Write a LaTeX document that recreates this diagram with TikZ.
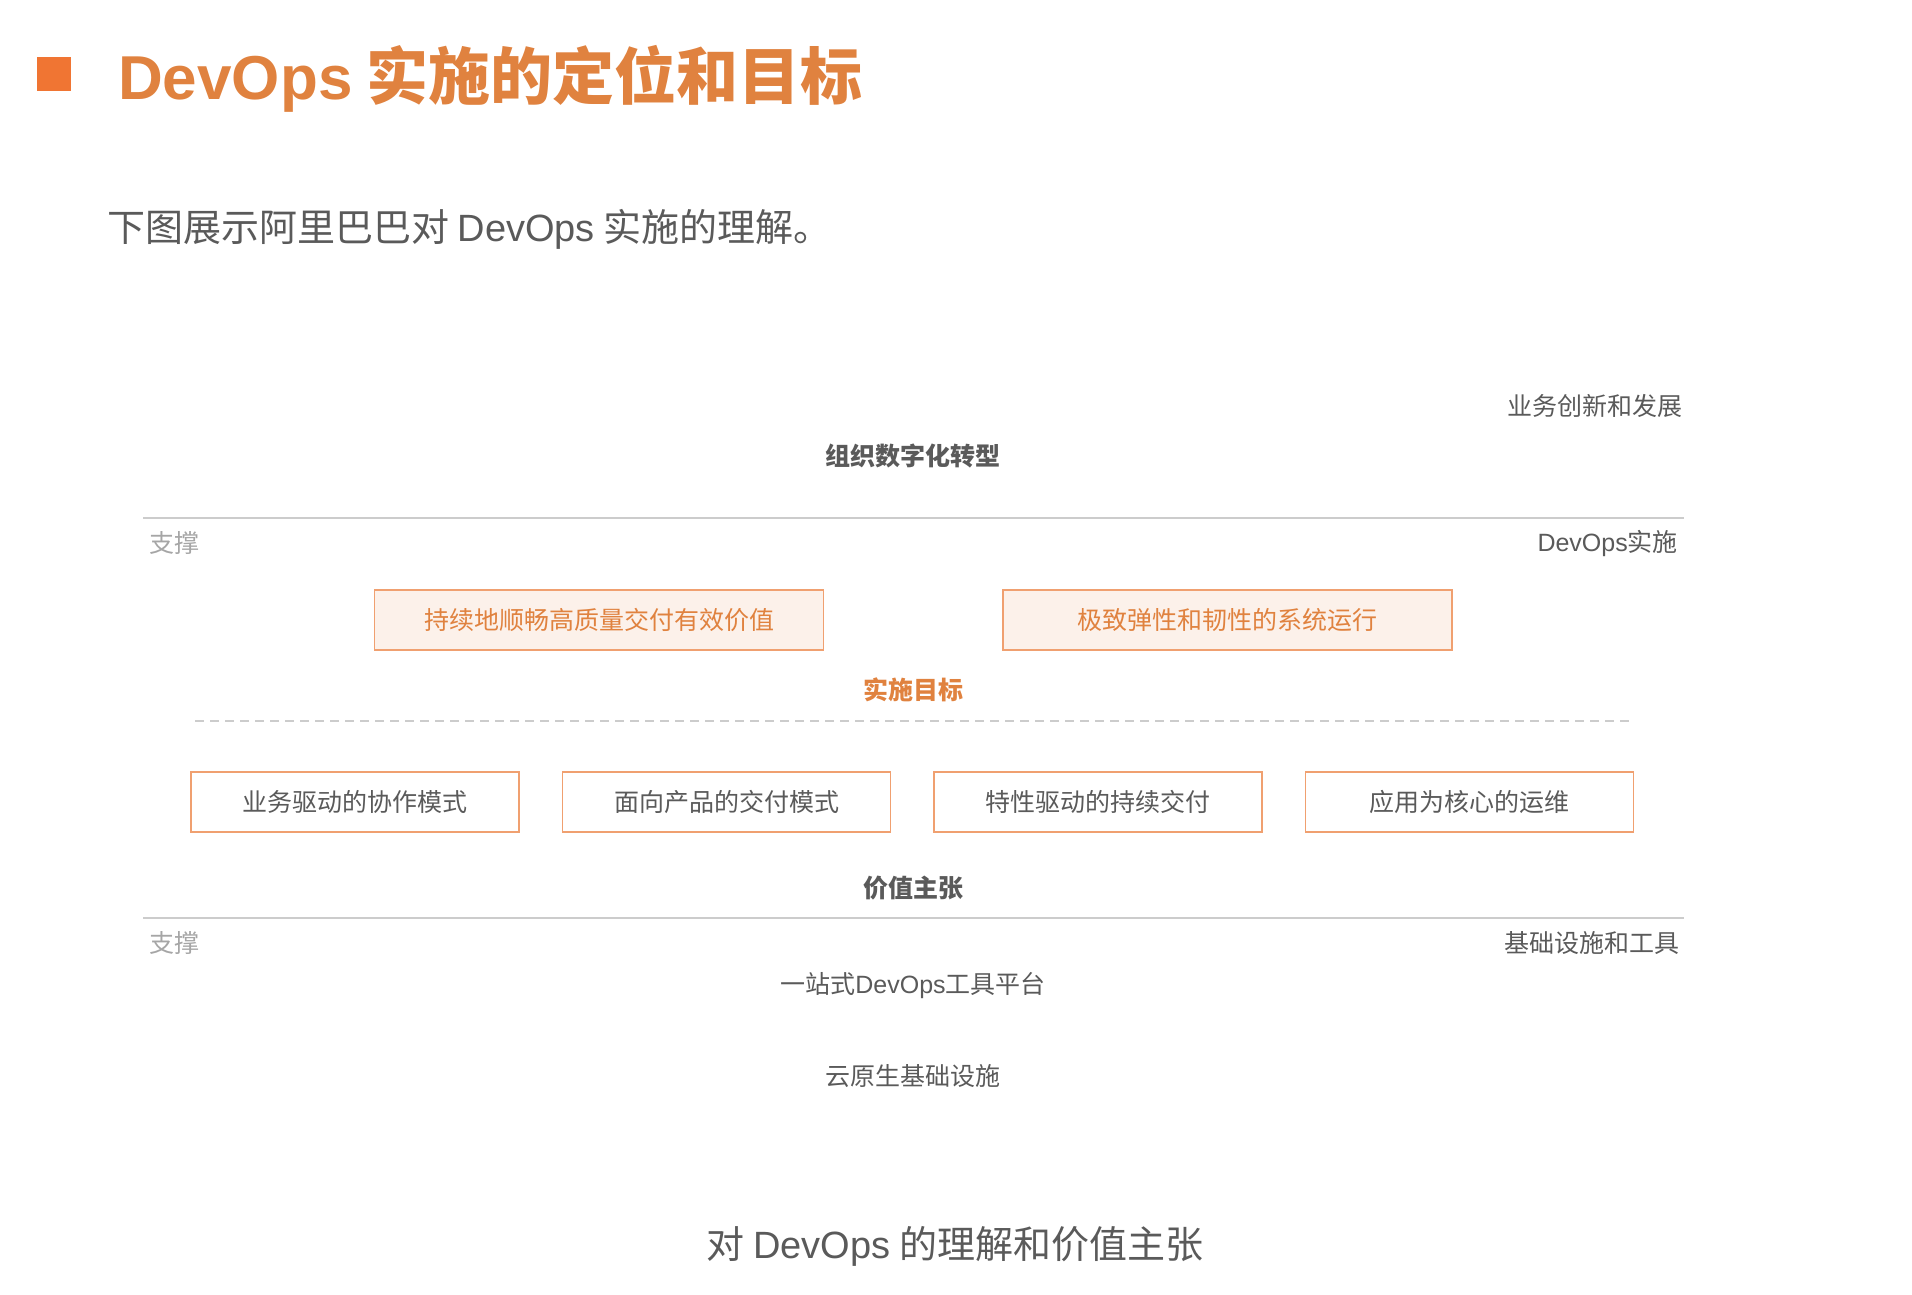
\documentclass[tikz,border=0pt]{standalone}
\usepackage{fontspec}
\setmainfont{Noto Sans CJK SC}
\newfontfamily\latin{Liberation Sans}
\usetikzlibrary{positioning}
\definecolor{accent}{HTML}{E0823F}
\definecolor{squarefill}{HTML}{F07533}
\definecolor{boxline}{HTML}{F0A070}
\definecolor{boxfill}{HTML}{FCF1EA}
\definecolor{txt}{HTML}{5A5A5A}
\definecolor{rulegray}{HTML}{CCCCCC}
\newcommand{\dvo}{{\latin DevOps}}

\begin{document}
\begin{tikzpicture}[
  x=1pt, y=-1pt,
  node distance=42pt,
  lbl/.style={inner sep=0pt, text=txt, font=\fontsize{25}{30}\selectfont},
  head/.style={lbl, font=\fontsize{25}{30}\selectfont\bfseries},
  faint/.style={lbl, text=black!35},
  goal/.style={draw=boxline, fill=boxfill, text=accent, line width=1.5pt,
               minimum width=449pt, minimum height=60pt,
               font=\fontsize{25}{30}\selectfont},
  value/.style={draw=boxline, fill=white, text=txt, line width=1.5pt,
                minimum width=328pt, minimum height=60pt,
                font=\fontsize{25}{30}\selectfont},
  sep/.style={draw=rulegray, line width=2pt},
]
\useasboundingbox (0,0) rectangle (1912,1294);
% title
\fill[squarefill] (37,57) rectangle (71,91);
\node[inner sep=0pt, anchor=west, text=accent,
      font=\fontsize{62}{66}\selectfont\bfseries] (title) at (118,79)
  {\dvo\ 实施的定位和目标};
\node[inner sep=0pt, anchor=west, text=txt,
      font=\fontsize{38}{42}\selectfont] (intro) at (107,229)
  {下图展示阿里巴巴对 \dvo\ 实施的理解。};

% top layer
\node[lbl, anchor=east] (biz) at (1683,406) {业务创新和发展};
\node[head] (org) at (913,456) {组织数字化转型};
\coordinate (r1a) at (143,518);
\coordinate (r1b) at (1684,518);
\draw[sep] (r1a) -- (r1b);
\node[faint, anchor=west] (sup1) at (149,543) {支撑};
\node[lbl, anchor=east] (impl) at (1678,543) {\dvo 实施};

% goals
\node[goal] (g1) at (599,620) {持续地顺畅高质量交付有效价值};
\node[goal, right=178pt of g1] (g2) {极致弹性和韧性的系统运行};
\node[head, text=accent] (goals) at (913,690) {实施目标};
\coordinate (dla) at (195,721);
\coordinate (dlb) at (1632,721);
\draw[draw=rulegray, line width=1.5pt, dash pattern=on 9pt off 6pt] (dla) -- (dlb);

% value proposition
\node[value] (v1) at (355,802) {业务驱动的协作模式};
\node[value, right=of v1] (v2) {面向产品的交付模式};
\node[value, right=of v2] (v3) {特性驱动的持续交付};
\node[value, right=of v3] (v4) {应用为核心的运维};
\node[head] (vals) at (913,888) {价值主张};
\coordinate (r2a) at (143,918);
\coordinate (r2b) at (1684,918);
\draw[sep] (r2a) -- (r2b);
\node[faint, anchor=west] (sup2) at (149,943) {支撑};
\node[lbl, anchor=east] (infra) at (1680,943) {基础设施和工具};

% base
\node[lbl] (tool) at (913,986) {一站式\dvo 工具平台};
\node[lbl] (cloud) at (913,1076) {云原生基础设施};

% caption
\node[inner sep=0pt, text=txt, font=\fontsize{38}{42}\selectfont] (cap) at (955,1246)
  {对 \dvo\ 的理解和价值主张};
\end{tikzpicture}
\end{document}
